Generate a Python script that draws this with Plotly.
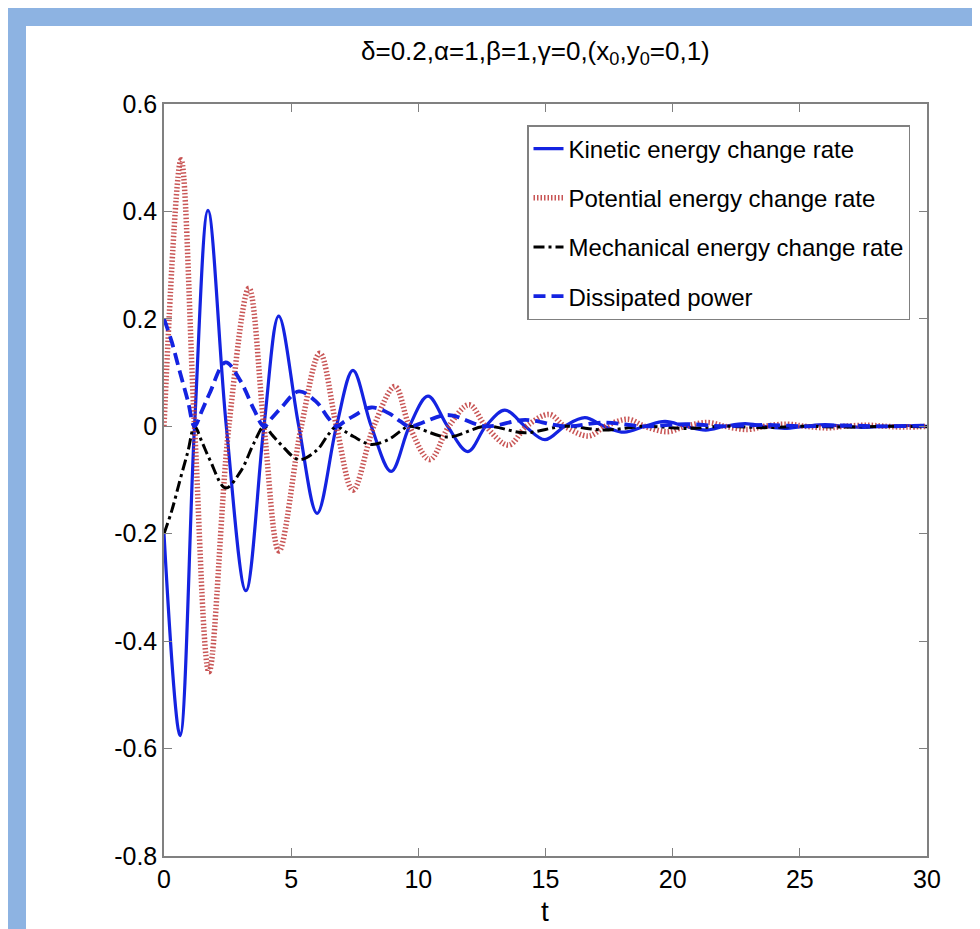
import plotly.graph_objects as go

# ---------------- data ----------------
KE_t = [0, 0.63, 1.2, 1.73, 2.45, 3.22, 3.93, 4.51, 5.3, 6.02, 6.78, 7.43, 8.15, 8.93,
        9.65, 10.38, 11.15, 11.95, 12.65, 13.4, 14.2, 14.98, 15.75, 16.55, 17.3, 18.1,
        18.9, 19.7, 20.5, 21.3, 22.05, 22.85, 23.6, 24.4, 25.2, 26.0, 26.75, 27.55,
        28.35, 29.15, 30]
KE_v = [-0.2, -0.576, 0, 0.402, 0, -0.306, 0, 0.205, 0, -0.162, 0, 0.104, 0, -0.084,
        0, 0.056, 0, -0.047, 0, 0.030, 0, -0.025, 0, 0.016, 0, -0.011,
        0, 0.009, 0, -0.007, 0, 0.005, 0, -0.004, 0, 0.003, 0, -0.002,
        0, 0.0015, 0]

PE_t = [0, 0.67, 1.2, 1.77, 2.55, 3.34, 3.93, 4.52, 5.4, 6.13, 6.78, 7.43, 8.25, 9.08,
        9.65, 10.45, 11.2, 12.0, 12.65, 13.55, 14.25, 15.15, 15.75, 16.7, 17.35, 18.25,
        18.9, 19.8, 20.5, 21.4, 22.05, 22.95, 23.6, 24.5, 25.2, 26.1, 26.75, 27.65,
        28.35, 29.2, 30]
PE_v = [0, 0.496, 0, -0.457, 0, 0.257, 0, -0.232, 0, 0.136, 0, -0.119, 0, 0.074,
        0, -0.062, 0, 0.040, 0, -0.035, 0, 0.022, 0, -0.018, 0, 0.013,
        0, -0.010, 0, 0.007, 0, -0.006, 0, 0.004, 0, -0.003, 0, 0.002,
        0, -0.0015, 0]

DP_t = [0, 0.3, 0.63, 0.94, 1.2, 1.5, 1.8, 2.42, 3.0, 3.55, 3.93, 4.25, 4.6, 5.3,
        6.0, 6.45, 6.78, 7.1, 7.45, 8.15, 8.85, 9.3, 9.65, 11.15, 12.65, 14.2, 15.75,
        17.3, 18.9, 20.5, 22.05, 23.6, 25.2, 26.75, 28.35, 29.9, 30]
DP_v = [0.2, 0.158, 0.10, 0.047, 0, 0.030, 0.062, 0.119, 0.085, 0.030, 0, 0.016, 0.034, 0.065,
        0.045, 0.016, 0, 0.009, 0.019, 0.035, 0.024, 0.009, 0, 0.021, 0, 0.012, 0,
        0.007, 0, 0.004, 0, 0.0025, 0, 0.0015, 0, 0.001, 0.001]

ME_t = [0, 0.3, 0.63, 0.94, 1.2, 1.5, 1.8, 2.42, 3.0, 3.55, 3.93, 4.25, 4.6, 5.3,
        6.0, 6.45, 6.78, 7.1, 7.45, 8.15, 8.85, 9.3, 9.65, 11.15, 12.65, 14.2, 15.75,
        17.3, 18.9, 20.5, 22.05, 23.6, 25.2, 26.75, 28.35, 29.9, 30]
ME_v = [-0.2, -0.158, -0.10, -0.047, 0, -0.030, -0.062, -0.115, -0.085, -0.030, 0, -0.016, -0.034, -0.062,
        -0.045, -0.016, 0, -0.009, -0.019, -0.034, -0.024, -0.009, 0, -0.020, 0, -0.012, 0,
        -0.007, 0, -0.004, 0, -0.0025, 0, -0.0015, 0, -0.001, -0.001]

series_names = ["Kinetic energy change rate", "Potential energy change rate",
                "Mechanical energy change rate", "Dissipated power"]

x_ticks = [0, 5, 10, 15, 20, 25, 30]
y_ticks = [-0.8, -0.6, -0.4, -0.2, 0, 0.2, 0.4, 0.6]
y_ticktext = ["-0.8", "-0.6", "-0.4", "-0.2", "0", "0.2", "0.4", "0.6"]

title_text = "δ=0.2,α=1,β=1,γ=0,(x<sub>0</sub>,y<sub>0</sub>=0,1)"

# ---------------- figure ----------------
FONT = "Liberation Sans, Arial, sans-serif"
W, H = 980, 929
L, R, T, B = 156, 61, 96, 81
pw, ph = W - L - R, H - T - B

def px_x(p):
    return (p - L) / pw

def px_y(p):
    return (H - B - p) / ph

fig = go.Figure()
fig.add_trace(go.Scatter(x=KE_t, y=KE_v, mode="lines", name=series_names[0], legendgroup="a",
                         line=dict(color="rgb(20,35,225)", width=3.2, shape="spline", smoothing=1)))
fig.add_trace(go.Scatter(x=PE_t, y=PE_v, mode="lines", name=series_names[1], legendgroup="b",
                         line=dict(color="rgba(190,55,55,0.85)", width=5.5, dash="1.5px,2px",
                                   shape="spline", smoothing=1)))
fig.add_trace(go.Scatter(x=ME_t, y=ME_v, mode="lines", name=series_names[2], legendgroup="c",
                         line=dict(color="black", width=3, dash="11px,4px,3px,4px",
                                   shape="spline", smoothing=1)))
fig.add_trace(go.Scatter(x=DP_t, y=DP_v, mode="lines", name=series_names[3], legendgroup="d",
                         line=dict(color="rgb(20,35,225)", width=3.8, dash="12px,6px",
                                   shape="spline", smoothing=1)))

axis_common = dict(showgrid=False, zeroline=False, showline=True, mirror="ticks",
                   linecolor="rgb(128,128,128)", linewidth=1.5, ticks="inside", ticklen=8,
                   tickcolor="rgb(128,128,128)", tickwidth=1,
                   tickfont=dict(family=FONT, size=25, color="black"))

fig.update_xaxes(range=[0, 30], tickvals=x_ticks, ticktext=[str(v) for v in x_ticks], **axis_common)
fig.update_yaxes(range=[-0.8, 0.6], tickvals=y_ticks, ticktext=y_ticktext, **axis_common)

fig.update_layout(
    width=W, height=H,
    margin=dict(l=L, r=R, t=T, b=B),
    paper_bgcolor="rgb(141,179,226)",
    plot_bgcolor="white",
    showlegend=True,
    legend=dict(x=px_x(902), y=px_y(117), xanchor="right", yanchor="top",
                bgcolor="white", bordercolor="rgb(128,128,128)", borderwidth=1.5,
                font=dict(family=FONT, size=24, color="black"),
                tracegroupgap=15),
    shapes=[dict(type="rect", xref="paper", yref="paper", layer="below",
                 x0=px_x(18), x1=px_x(990), y0=px_y(940), y1=px_y(18),
                 fillcolor="white", line=dict(width=0))],
    annotations=[
        dict(text=title_text, xref="paper", yref="paper", x=px_x(527), y=px_y(44),
             xanchor="center", yanchor="middle", showarrow=False,
             font=dict(family=FONT, size=26, color="black")),
        dict(text="t", xref="paper", yref="paper", x=px_x(537), y=px_y(903),
             xanchor="center", yanchor="middle", showarrow=False,
             font=dict(family=FONT, size=28, color="black")),
    ],
)

fig.write_html("out.html")
